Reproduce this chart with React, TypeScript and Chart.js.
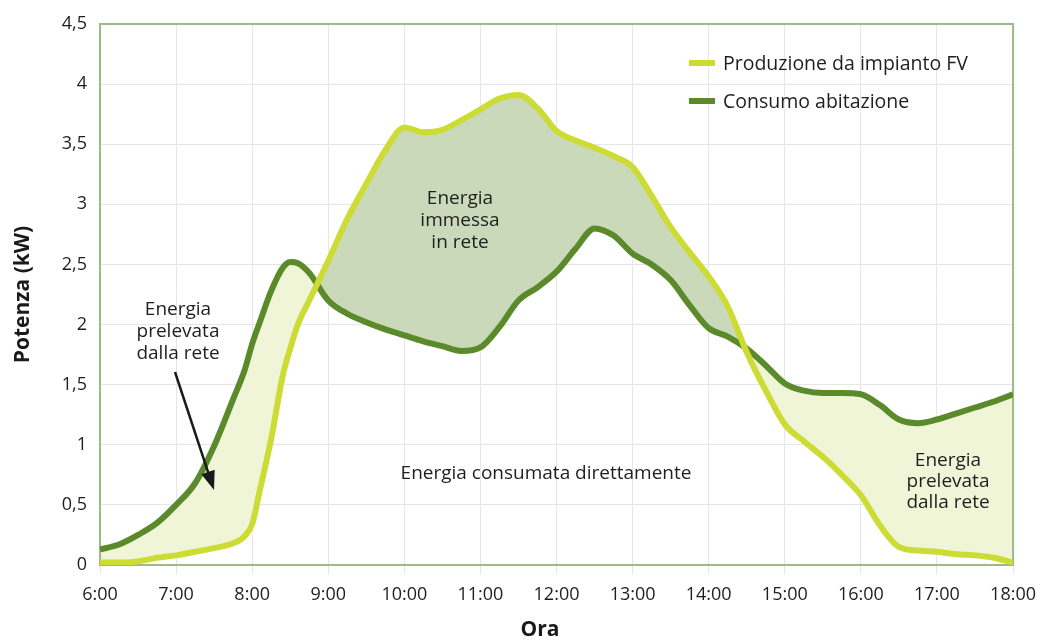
import React, { useEffect, useRef } from "react";
import { Chart, registerables } from "chart.js";

Chart.register(...registerables);

const hours = [
  6, 6.25, 6.5, 6.75, 7, 7.25, 7.5, 7.75, 7.9, 8, 8.1, 8.25, 8.4, 8.5, 8.6, 8.75,
  9, 9.25, 9.5, 9.75, 10, 10.25, 10.5, 10.75, 11, 11.25, 11.5, 11.75, 12, 12.25,
  12.5, 12.75, 13, 13.25, 13.5, 13.75, 14, 14.25, 14.5, 14.75, 15, 15.25, 15.5,
  15.75, 16, 16.25, 16.5, 16.75, 17, 17.25, 17.5, 17.75, 18,
];

const production = [
  0.02, 0.02, 0.03, 0.06, 0.08, 0.11, 0.14, 0.18, 0.24, 0.34, 0.62, 1.05, 1.57, 1.8, 2.0, 2.2,
  2.53, 2.88, 3.17, 3.45, 3.64, 3.6, 3.62, 3.7, 3.79, 3.88, 3.91, 3.8, 3.61, 3.53,
  3.47, 3.4, 3.31, 3.07, 2.81, 2.6, 2.4, 2.15, 1.77, 1.45, 1.17, 1.03, 0.9,
  0.75, 0.58, 0.33, 0.15, 0.12, 0.11, 0.09, 0.08, 0.06, 0.02,
];

const consumption = [
  0.13, 0.17, 0.25, 0.35, 0.5, 0.68, 0.99, 1.38, 1.62, 1.84, 2.02, 2.28, 2.47, 2.52, 2.51, 2.43,
  2.2, 2.09, 2.02, 1.96, 1.91, 1.86, 1.82, 1.78, 1.81, 1.98, 2.2, 2.31, 2.44, 2.63,
  2.8, 2.74, 2.59, 2.5, 2.37, 2.16, 1.97, 1.9, 1.8, 1.66, 1.51, 1.45, 1.43,
  1.43, 1.42, 1.33, 1.21, 1.18, 1.21, 1.26, 1.31, 1.36, 1.42,
];

const xTickLabels = [
  "6:00", "7:00", "8:00", "9:00", "10:00", "11:00", "12:00",
  "13:00", "14:00", "15:00", "16:00", "17:00", "18:00",
];
const yTickLabels = ["0", "0,5", "1", "1,5", "2", "2,5", "3", "3,5", "4", "4,5"];

const seriesLabels = ["Produzione da impianto FV", "Consumo abitazione"];
const xTitle = "Ora";
const yTitle = "Potenza (kW)";
const noteLeft = ["Energia", "prelevata", "dalla rete"];
const noteMiddle = ["Energia", "immessa", "in rete"];
const noteBottom = ["Energia consumata direttamente"];
const noteRight = ["Energia", "prelevata", "dalla rete"];

const FONT = '"Open Sans", "Noto Sans", sans-serif';
const C_PROD = "#cddc35";
const C_CONS = "#5b8a2a";
const C_IMM = "#cbd9bb";
const C_PREL = "#f1f5d8";
const C_FRAME = "#9dba86";
const C_GRID = "#e6e6e6";
const C_TEXT = "#1e1e1e";

const overlay = {
  id: "overlay",
  beforeDatasetsDraw(chart: any) {
    const { ctx, chartArea: a } = chart;
    ctx.save();
    ctx.strokeStyle = C_FRAME;
    ctx.lineWidth = 2;
    ctx.strokeRect(a.left, a.top, a.right - a.left, a.bottom - a.top);
    ctx.restore();
  },
  afterDatasetsDraw(chart: any) {
    const { ctx, chartArea: a } = chart;
    ctx.save();
    ctx.fillStyle = C_TEXT;
    ctx.textAlign = "center";
    ctx.textBaseline = "middle";
    ctx.font = `19px ${FONT}`;
    const block = (lines: string[], cx: number, cy: number, lh: number) => {
      lines.forEach((t, i) => ctx.fillText(t, cx, cy + i * lh));
    };
    block(noteLeft, 178, 310, 22);
    block(noteMiddle, 460, 199, 22);
    block(noteBottom, 546, 474, 22);
    block(noteRight, 948, 461, 21);

    // arrow
    const x1 = 175, y1 = 372, x2 = 214, y2 = 490;
    const ang = Math.atan2(y2 - y1, x2 - x1);
    const hl = 19, hw = 7;
    ctx.strokeStyle = "#1a1a1a";
    ctx.fillStyle = "#1a1a1a";
    ctx.lineWidth = 2.5;
    ctx.beginPath();
    ctx.moveTo(x1, y1);
    ctx.lineTo(x2 - Math.cos(ang) * hl * 0.8, y2 - Math.sin(ang) * hl * 0.8);
    ctx.stroke();
    ctx.beginPath();
    ctx.moveTo(x2, y2);
    const bx = x2 - Math.cos(ang) * hl, by = y2 - Math.sin(ang) * hl;
    ctx.lineTo(bx + Math.sin(ang) * hw, by - Math.cos(ang) * hw);
    ctx.lineTo(bx - Math.sin(ang) * hw, by + Math.cos(ang) * hw);
    ctx.closePath();
    ctx.fill();

    // legend
    const lg = [
      { c: C_PROD, t: seriesLabels[0], y: 63 },
      { c: C_CONS, t: seriesLabels[1], y: 101 },
    ];
    ctx.textAlign = "left";
    ctx.font = `19.5px ${FONT}`;
    lg.forEach((l) => {
      ctx.fillStyle = l.c;
      ctx.fillRect(689, l.y - 3, 26, 6);
      ctx.fillStyle = C_TEXT;
      ctx.fillText(l.t, 723, l.y + 1);
    });

    // axis titles
    ctx.font = `bold 21px ${FONT}`;
    ctx.textAlign = "center";
    ctx.fillStyle = "#1a1a1a";
    ctx.fillText(xTitle, 540, 630);
    ctx.translate(23, (a.top + a.bottom) / 2);
    ctx.rotate(-Math.PI / 2);
    ctx.fillText(yTitle, 0, 0);
    ctx.restore();
  },
};

export default function App() {
  const ref = useRef<HTMLCanvasElement | null>(null);
  useEffect(() => {
    if (!ref.current) return;
    const chart = new Chart(ref.current, {
      type: "line",
      data: {
        datasets: [
          {
            label: seriesLabels[0],
            data: hours.map((h, i) => ({ x: h, y: production[i] })),
            borderColor: C_PROD,
            borderWidth: 6,
            pointRadius: 0,
            cubicInterpolationMode: "monotone",
            fill: { target: 1, above: C_IMM, below: C_PREL },
          },
          {
            label: seriesLabels[1],
            data: hours.map((h, i) => ({ x: h, y: consumption[i] })),
            borderColor: C_CONS,
            borderWidth: 6,
            pointRadius: 0,
            cubicInterpolationMode: "monotone",
            fill: false,
          },
        ],
      },
      options: {
        animation: false,
        responsive: true,
        maintainAspectRatio: false,
        layout: { padding: { top: 24, right: 29, left: 0, bottom: 0 } },
        plugins: {
          legend: { display: false },
          tooltip: { enabled: false },
          filler: { drawTime: "beforeDatasetsDraw", propagate: false },
        },
        scales: {
          x: {
            type: "linear",
            min: 6,
            max: 18,
            afterFit: (s: any) => { s.height = 79; },
            afterBuildTicks: (s: any) => {
              s.ticks = xTickLabels.map((_, i) => ({ value: 6 + i }));
            },
            ticks: {
              callback: (_v: any, i: number) => xTickLabels[i],
              font: { family: FONT, size: 18 },
              color: C_TEXT,
              padding: 10,
              maxRotation: 0,
              autoSkip: false,
            },
            grid: { color: C_GRID, lineWidth: 1, tickLength: 9, drawTicks: true },
            border: { display: false },
          },
          y: {
            min: 0,
            max: 4.5,
            afterFit: (s: any) => { s.width = 100; },
            afterBuildTicks: (s: any) => {
              s.ticks = yTickLabels.map((_, i) => ({ value: i * 0.5 }));
            },
            ticks: {
              callback: (_v: any, i: number) => yTickLabels[i],
              font: { family: FONT, size: 18 },
              color: C_TEXT,
              padding: 13,
            },
            grid: { color: C_GRID, lineWidth: 1, drawTicks: false },
            border: { display: false },
          },
        },
      },
      plugins: [overlay],
    });
    return () => chart.destroy();
  }, []);
  return (
    <div style={{ margin: "-8px", width: 1046, height: 644, position: "relative" }}>
      <canvas ref={ref} />
    </div>
  );
}
